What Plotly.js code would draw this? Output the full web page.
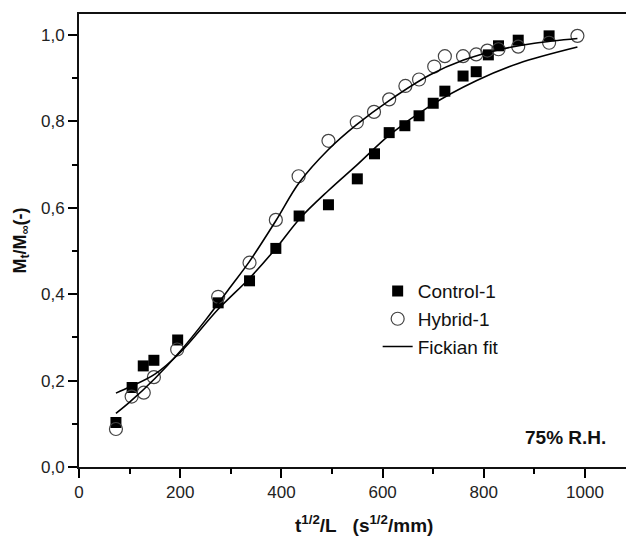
<!DOCTYPE html>
<html>
<head>
<meta charset="utf-8">
<script src="https://cdn.plot.ly/plotly-3.0.1.min.js"></script>
<style>html,body{margin:0;padding:0;background:#fff;}#chart{width:626px;height:541px;}</style>
</head>
<body>
<div id="chart"></div>
<script>
// Control-1 measured points
const controlX = [73, 105, 127, 148, 195, 275, 337, 389, 435, 493, 550, 584, 613, 644, 672, 700, 723, 759, 785, 809, 829, 868, 929];
const controlY = [0.103, 0.184, 0.234, 0.247, 0.294, 0.380, 0.431, 0.506, 0.581, 0.607, 0.667, 0.725, 0.774, 0.790, 0.813, 0.842, 0.870, 0.905, 0.915, 0.954, 0.975, 0.988, 0.998];
// Hybrid-1 measured points
const hybridX = [73, 104, 128, 148, 194, 275, 337, 389, 434, 493, 549, 583, 613, 645, 672, 702, 723, 759, 785, 807, 829, 868, 929, 985];
const hybridY = [0.088, 0.163, 0.172, 0.208, 0.272, 0.394, 0.473, 0.572, 0.673, 0.755, 0.798, 0.822, 0.851, 0.882, 0.897, 0.927, 0.951, 0.951, 0.955, 0.964, 0.967, 0.973, 0.982, 0.998];
// Fickian fit curves
const fitHybridX = [73, 100, 150, 200, 250, 300, 337, 389, 435, 493, 548, 615, 694, 760, 830, 900, 985];
const fitHybridY = [0.124, 0.150, 0.205, 0.268, 0.340, 0.418, 0.476, 0.570, 0.658, 0.735, 0.792, 0.850, 0.908, 0.942, 0.966, 0.981, 0.992];
const fitControlX = [73, 100, 150, 200, 275, 337, 389, 437, 493, 550, 615, 694, 785, 868, 985];
const fitControlY = [0.171, 0.185, 0.215, 0.265, 0.365, 0.437, 0.506, 0.576, 0.640, 0.700, 0.770, 0.836, 0.894, 0.934, 0.972];
// Tick labels
const yTickVals = [0, 0.2, 0.4, 0.6, 0.8, 1.0];
const yTickText = ['0,0', '0,2', '0,4', '0,6', '0,8', '1,0'];
const yMinorVals = [0.1, 0.3, 0.5, 0.7, 0.9];
const xTickVals = [0, 200, 400, 600, 800, 1000];
const xTickText = ['0', '200', '400', '600', '800', '1000'];
const xMinorVals = [100, 300, 500, 700, 900];

const FONT = 'Liberation Sans, Arial, sans-serif';
const XRANGE = [0, 1081];
const YRANGE = [0, 1.0486];

const traces = [
  {x: controlX, y: controlY, mode: 'markers', type: 'scatter', name: 'Control-1',
   marker: {symbol: 'square', size: 11, color: '#000'}},
  {x: hybridX, y: hybridY, mode: 'markers', type: 'scatter', name: 'Hybrid-1',
   marker: {symbol: 'circle-open', size: 13, color: '#444', line: {width: 1.2, color: '#444'}}},
  {x: fitHybridX, y: fitHybridY, mode: 'lines', type: 'scatter', name: 'Fickian fit',
   line: {color: '#000', width: 1.6, shape: 'spline', smoothing: 1}},
  {x: fitControlX, y: fitControlY, mode: 'lines', type: 'scatter', name: 'Fickian fit', showlegend: false,
   line: {color: '#000', width: 1.6, shape: 'spline', smoothing: 1}},
  // invisible carriers so the minor-tick axes are created
  {x: xMinorVals, y: yMinorVals, xaxis: 'x2', yaxis: 'y', mode: 'markers', type: 'scatter',
   marker: {opacity: 0}, showlegend: false, hoverinfo: 'skip'},
  {x: xMinorVals, y: yMinorVals, xaxis: 'x', yaxis: 'y2', mode: 'markers', type: 'scatter',
   marker: {opacity: 0}, showlegend: false, hoverinfo: 'skip'}
];

const layout = {
  width: 626, height: 541,
  margin: {l: 79, r: 0, t: 14, b: 74},
  paper_bgcolor: '#fff', plot_bgcolor: '#fff',
  font: {family: FONT, color: '#222'},
  showlegend: true,
  legend: {x: 0.546, y: 0.43, xanchor: 'left', yanchor: 'top', bgcolor: 'rgba(0,0,0,0)',
           font: {family: FONT, size: 19, color: '#111'}, tracegroupgap: 0},
  xaxis: {
    range: XRANGE, showgrid: false, zeroline: false,
    showline: true, linecolor: '#111', linewidth: 2, mirror: true,
    ticks: 'outside', ticklen: 9, tickwidth: 2, tickcolor: '#000',
    tickvals: xTickVals, ticktext: xTickText,
    tickfont: {family: FONT, size: 17, color: '#222'}
  },
  xaxis2: {
    overlaying: 'x', anchor: 'y', side: 'bottom', range: XRANGE,
    showgrid: false, zeroline: false, showline: false,
    ticks: 'outside', ticklen: 6, tickwidth: 2, tickcolor: '#000',
    tickvals: xMinorVals, showticklabels: false
  },
  yaxis: {
    range: YRANGE, showgrid: false, zeroline: false,
    showline: true, linecolor: '#111', linewidth: 2, mirror: false,
    ticks: 'outside', ticklen: 9, tickwidth: 2, tickcolor: '#000',
    tickvals: yTickVals, ticktext: yTickText,
    tickfont: {family: FONT, size: 17, color: '#222'},
    title: {text: '<b>M<sub>t</sub>/M<sub>∞</sub>(-)</b>', font: {family: FONT, size: 18, color: '#111'}, standoff: 10}
  },
  yaxis2: {
    overlaying: 'y', anchor: 'x', side: 'left', range: YRANGE,
    showgrid: false, zeroline: false, showline: false,
    ticks: 'outside', ticklen: 6, tickwidth: 2, tickcolor: '#000',
    tickvals: yMinorVals, showticklabels: false
  },
  annotations: [
    {text: '<b>75% R.H.</b>', xref: 'paper', yref: 'paper', x: 0.967, y: 0.066,
     xanchor: 'right', yanchor: 'middle', showarrow: false,
     font: {family: FONT, size: 19, color: '#111'}},
    {text: '<b>t<sup>1/2</sup>/L\u00a0\u00a0\u00a0(s<sup>1/2</sup>/mm)</b>', xref: 'paper', yref: 'paper',
     x: 0.521, y: -0.125, xanchor: 'center', yanchor: 'middle', showarrow: false,
     font: {family: FONT, size: 19, color: '#111'}}
  ]
};

Plotly.newPlot('chart', traces, layout, {displayModeBar: false, staticPlot: true});
</script>
</body>
</html>
